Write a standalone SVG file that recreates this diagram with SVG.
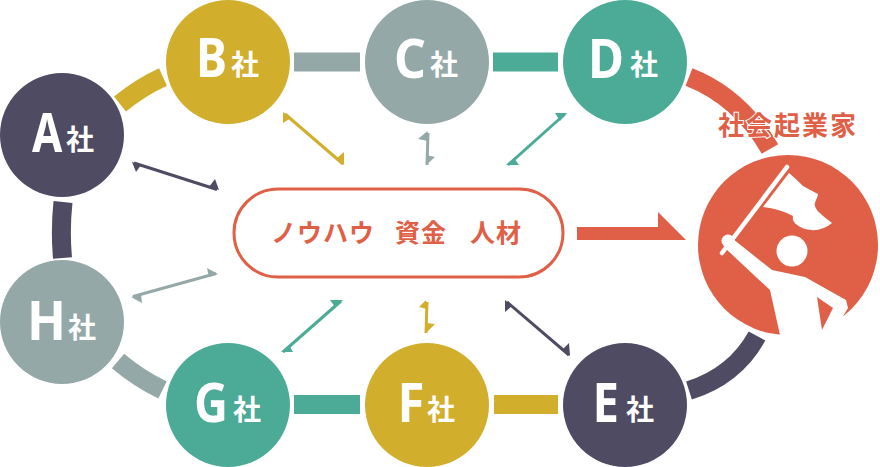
<svg xmlns="http://www.w3.org/2000/svg" width="880" height="467" viewBox="0 0 880 467">
<style>
.dark{fill:#4F4B63}.yel{fill:#D2AE2D}.gry{fill:#94A8A8}.tea{fill:#4BAB96}.red{fill:#E05F47}
.sd{stroke:#4F4B63}.sy{stroke:#D2AE2D}.sg{stroke:#94A8A8}.st{stroke:#4BAB96}.sr{stroke:#E05F47}
.l{fill:none;stroke-width:19}
.a{fill:none;stroke-width:3}
.n{fill:#fff;font-family:"Noto Sans","Liberation Sans",sans-serif;font-weight:700;font-size:54px}
.s{fill:#fff;font-family:"Noto Sans CJK JP",sans-serif;font-weight:700;font-size:28px}
.t{fill:#E05F47;font-family:"Noto Sans CJK JP",sans-serif;font-weight:700}
</style>
<rect width="880" height="467" fill="#fff"/>
<g id="connectors">
<path class="l sy" d="M120,104 Q141,87 163,77"/>
<path class="l sg" d="M294,62H360"/>
<path class="l st" d="M493,62H558"/>
<path class="l sr" d="M689,77 Q740,97 770,149"/>
<path class="l sd" d="M63,202 Q60,230 62.500,258"/>
<path class="l sg" d="M118,361 Q138,378 162.500,390"/>
<path class="l st" d="M294,404.500H360"/>
<path class="l sy" d="M494,404.500H558"/>
<path class="l sd" d="M689,390.500 Q735,376 757,336"/>
<g id="arrow-b"><path class="a sy" d="M285,114L343,164"/><path class="yel" d="M283,112V123L291,118ZM344,165V152L336,159Z"/></g>
<g id="arrow-c"><path class="a sg" d="M428,133L427,165"/><path class="gry" d="M427.500,131L418,139L428,141ZM426,165L435,157L426,155Z"/></g>
<g id="arrow-d"><path class="a st" d="M565,114L508,165"/><path class="tea" d="M567,113H555L560,121ZM506,165H519L514,158Z"/></g>
<g id="arrow-a"><path class="a sd" d="M134,163L217,189.500"/><path class="dark" d="M132,162L136,172L141,165ZM219,190L215,179L209,187Z"/></g>
<g id="arrow-h"><path class="a sg" d="M216,273.500L133,296.500"/><path class="gry" d="M218,274L207,268L209,277ZM131,297L142,303L141,294Z"/></g>
<g id="arrow-g"><path class="a st" d="M341,301L283,352"/><path class="tea" d="M343,300H330L335,307ZM281,352H293L289,345Z"/></g>
<g id="arrow-f"><path class="a sy" d="M427,302L426,333"/><path class="yel" d="M426,300L419,307L427,309ZM426,333L435,324L426,323Z"/></g>
<g id="arrow-e"><path class="a sd" d="M507,302L569,355"/><path class="dark" d="M505,300V312L512,306ZM570,356L569,343L562,350Z"/></g>
<path id="arrow-main" class="red" d="M577,227H658V212L686,240H577Z"/>
</g>
<g id="node-a"><circle class="dark" cx="62" cy="135" r="62"/><text class="n" transform="translate(32 152) scale(.81 1)">A</text><text class="s" x="66" y="150">社</text></g>
<g id="node-b"><circle class="yel" cx="228" cy="62" r="62"/><text class="n" x="196" y="77" textLength="31" lengthAdjust="spacingAndGlyphs">B</text><text class="s" x="231" y="75">社</text></g>
<g id="node-c"><circle class="gry" cx="427" cy="62" r="62"/><text class="n" x="394" y="78" textLength="32" lengthAdjust="spacingAndGlyphs">C</text><text class="s" x="430" y="75">社</text></g>
<g id="node-d"><circle class="tea" cx="625" cy="62" r="62"/><text class="n" x="588" y="78" textLength="36" lengthAdjust="spacingAndGlyphs">D</text><text class="s" x="630" y="75">社</text></g>
<g id="node-e"><circle class="dark" cx="625" cy="405" r="62"/><text class="n" x="592.500" y="422" textLength="26.500" lengthAdjust="spacingAndGlyphs">E</text><text class="s" x="626" y="420">社</text></g>
<g id="node-f"><circle class="yel" cx="427" cy="405" r="62"/><text class="n" x="397.500" y="422" textLength="27" lengthAdjust="spacingAndGlyphs">F</text><text class="s" x="427" y="420">社</text></g>
<g id="node-g"><circle class="tea" cx="228" cy="405" r="62"/><text class="n" x="194" y="422" textLength="34" lengthAdjust="spacingAndGlyphs">G</text><text class="s" x="233" y="420">社</text></g>
<g id="node-h"><circle class="gry" cx="62" cy="322" r="62"/><text class="n" x="27" y="340" textLength="39" lengthAdjust="spacingAndGlyphs">H</text><text class="s" x="68" y="338">社</text></g>
<g id="node-center"><rect x="234" y="189" width="329" height="88" rx="44" fill="#fff" stroke="#E05F47" stroke-width="3"/>
<text class="t" y="242" font-size="25" letter-spacing="1"><tspan x="271">ノウハウ</tspan><tspan x="395">資金</tspan><tspan x="470">人材</tspan></text></g>
<g id="node-entrepreneur">
<text class="t" x="718" y="135" font-size="26" letter-spacing="2" stroke="#fff" stroke-width="2" paint-order="stroke">社会起業家</text>
<circle class="red" cx="788" cy="245" r="90"/>
<path fill="#fff" d="M733,239L772,270L805,277L846,300L848,308L842,318L860,345H780V335L770,290L725,248Z"/>
<path class="red" d="M817,297L833,308L822,330Z"/>
<circle cx="792" cy="251" r="15.500" fill="#fff"/>
<circle cx="728" cy="241" r="6.500" fill="#fff"/>
<path d="M787,167L722,253" stroke="#fff" stroke-width="4.500" stroke-linecap="round"/>
<path fill="#fff" d="M789,173L763,207Q780,209 793,216Q791,224 805,229Q820,233 832,223Q824,217 821,214Q812,207 816,200Q818,196 818,194Q810,190 803,186Q795,178 789,173Z"/>
</g>
</svg>
